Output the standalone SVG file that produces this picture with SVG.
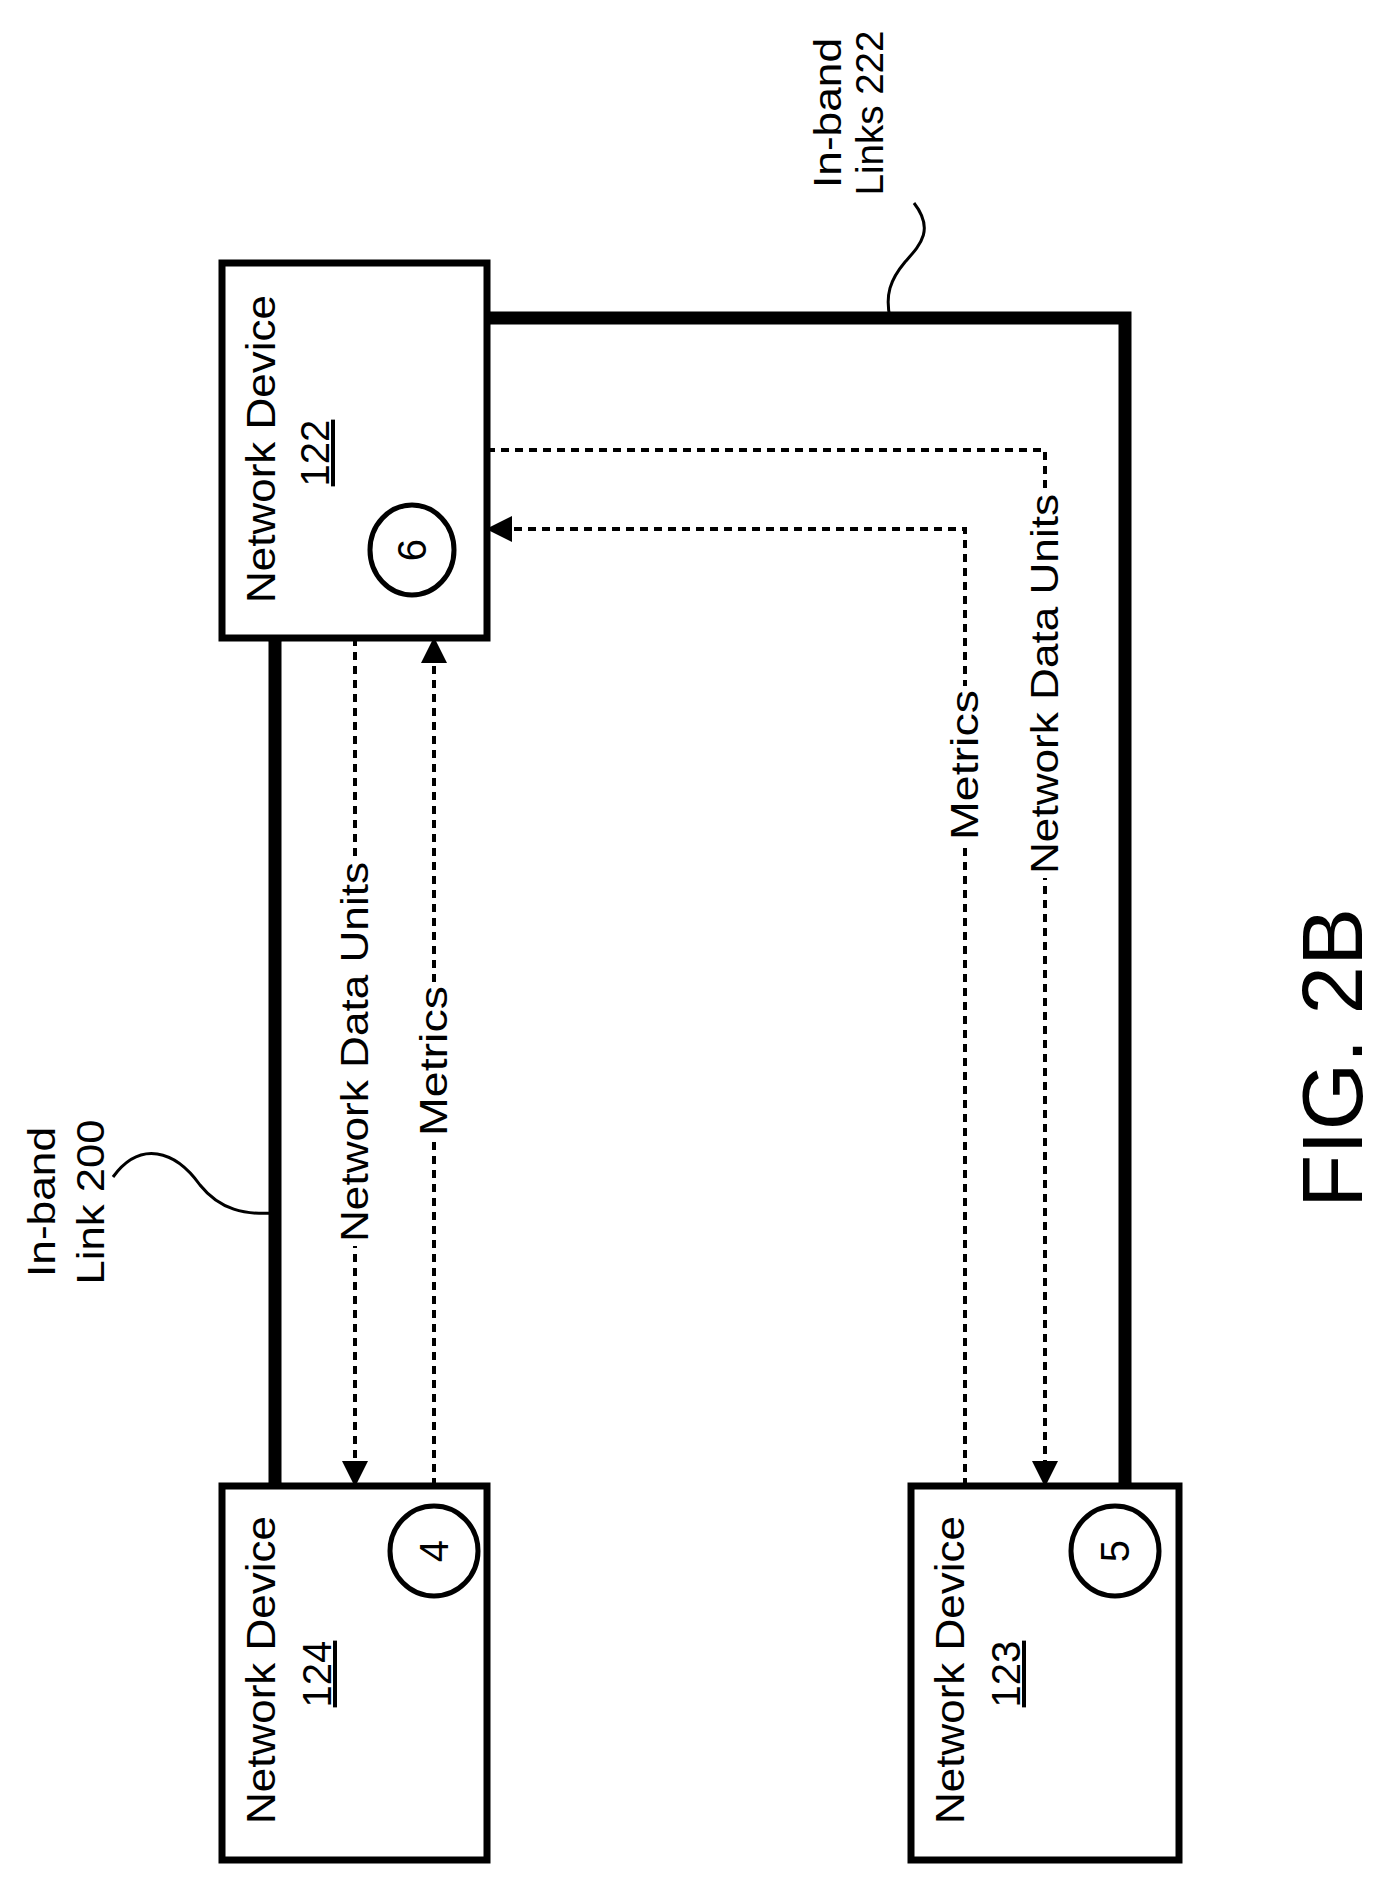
<svg xmlns="http://www.w3.org/2000/svg" width="1386" height="1882" viewBox="0 0 1386 1882">
<style>
.box{fill:#fff;stroke:#000;stroke-width:7}
.c{fill:none;stroke:#000;stroke-width:5}
.t{font-family:"Liberation Sans",Arial,sans-serif;fill:#000}
.thick{fill:none;stroke:#000;stroke-width:13}
.dash{fill:none;stroke:#000;stroke-width:4;stroke-dasharray:8,6}
.sq{fill:none;stroke:#000;stroke-width:3}
.bg{fill:#fff}
</style>
<defs>
<marker id="ah2" markerWidth="26" markerHeight="26" refX="25" refY="13" orient="auto" markerUnits="userSpaceOnUse" viewBox="0 0 26 26">
<path d="M0,0 L26,13 L0,26 z" fill="#000"/>
</marker>
</defs>
<g id="connectors">
<path class="thick" d="M275,638 V1486"/>
<path class="thick" d="M487,318 H1125 V1486"/>
<circle cx="275" cy="638" r="7"/><circle cx="275" cy="1486" r="7"/>
<circle cx="487" cy="318" r="7"/><circle cx="1125" cy="1486" r="7"/>
<path class="dash" d="M355,638 V1486" marker-end="url(#ah2)"/>
<path class="dash" d="M434,1486 V638" marker-end="url(#ah2)"/>
<path class="dash" d="M965,1486 V529 H487" marker-end="url(#ah2)"/>
<path class="dash" d="M487,450 H1045 V1486" marker-end="url(#ah2)"/>
<path class="sq" d="M113,1177 C140,1140 175,1150 200,1185 C220,1210 245,1215 275,1213"/>
<path class="sq" d="M914,203 C935,230 920,245 905,262 C890,280 885,295 890,318"/>
<rect class="bg" x="333" y="858" width="44" height="388"/>
<rect class="bg" x="412" y="982" width="44" height="158"/>
<rect class="bg" x="943" y="686" width="44" height="158"/>
<rect class="bg" x="1023" y="490" width="44" height="388"/>
<g class="t" font-size="38" text-anchor="middle">
<text transform="translate(368,1052) rotate(-90)" textLength="380" lengthAdjust="spacingAndGlyphs">Network Data Units</text>
<text transform="translate(447,1061) rotate(-90)" textLength="150" lengthAdjust="spacingAndGlyphs">Metrics</text>
<text transform="translate(978,765) rotate(-90)" textLength="150" lengthAdjust="spacingAndGlyphs">Metrics</text>
<text transform="translate(1058,684) rotate(-90)" textLength="380" lengthAdjust="spacingAndGlyphs">Network Data Units</text>
<text transform="translate(55,1202) rotate(-90)" textLength="150" lengthAdjust="spacingAndGlyphs">In-band</text>
<text transform="translate(104,1202) rotate(-90)" textLength="165" lengthAdjust="spacingAndGlyphs">Link 200</text>
<text transform="translate(841,113) rotate(-90)" textLength="150" lengthAdjust="spacingAndGlyphs">In-band</text>
<text transform="translate(883,113) rotate(-90)" textLength="165" lengthAdjust="spacingAndGlyphs">Links 222</text>
</g>
</g>
<g id="n122">
<rect class="box" x="222" y="263" width="265" height="375"/>
<text class="t" font-size="40" text-anchor="middle" transform="translate(275,449) rotate(-90)" textLength="308" lengthAdjust="spacingAndGlyphs">Network Device</text>
<text class="t" font-size="40" text-anchor="middle" text-decoration="underline" transform="translate(329,453) rotate(-90)">122</text>
<ellipse class="c" cx="412" cy="550" rx="42" ry="45"/>
<text class="t" font-size="40" text-anchor="middle" transform="translate(426,550) rotate(-90)">6</text>
</g>
<g id="n124">
<rect class="box" x="222" y="1486" width="265" height="374"/>
<text class="t" font-size="40" text-anchor="middle" transform="translate(275,1670) rotate(-90)" textLength="308" lengthAdjust="spacingAndGlyphs">Network Device</text>
<text class="t" font-size="40" text-anchor="middle" text-decoration="underline" transform="translate(331,1674) rotate(-90)">124</text>
<ellipse class="c" cx="434" cy="1551" rx="44" ry="45"/>
<text class="t" font-size="40" text-anchor="middle" transform="translate(448,1551) rotate(-90)">4</text>
</g>
<g id="n123">
<rect class="box" x="911" y="1486" width="268" height="374"/>
<text class="t" font-size="40" text-anchor="middle" transform="translate(964,1670) rotate(-90)" textLength="308" lengthAdjust="spacingAndGlyphs">Network Device</text>
<text class="t" font-size="40" text-anchor="middle" text-decoration="underline" transform="translate(1020,1674) rotate(-90)">123</text>
<ellipse class="c" cx="1115" cy="1551" rx="44" ry="45"/>
<text class="t" font-size="40" text-anchor="middle" transform="translate(1129,1551) rotate(-90)">5</text>
</g>
<text class="t" font-size="86" text-anchor="middle" transform="translate(1362,1058) rotate(-90)" textLength="300" lengthAdjust="spacingAndGlyphs">FIG. 2B</text>
</svg>
